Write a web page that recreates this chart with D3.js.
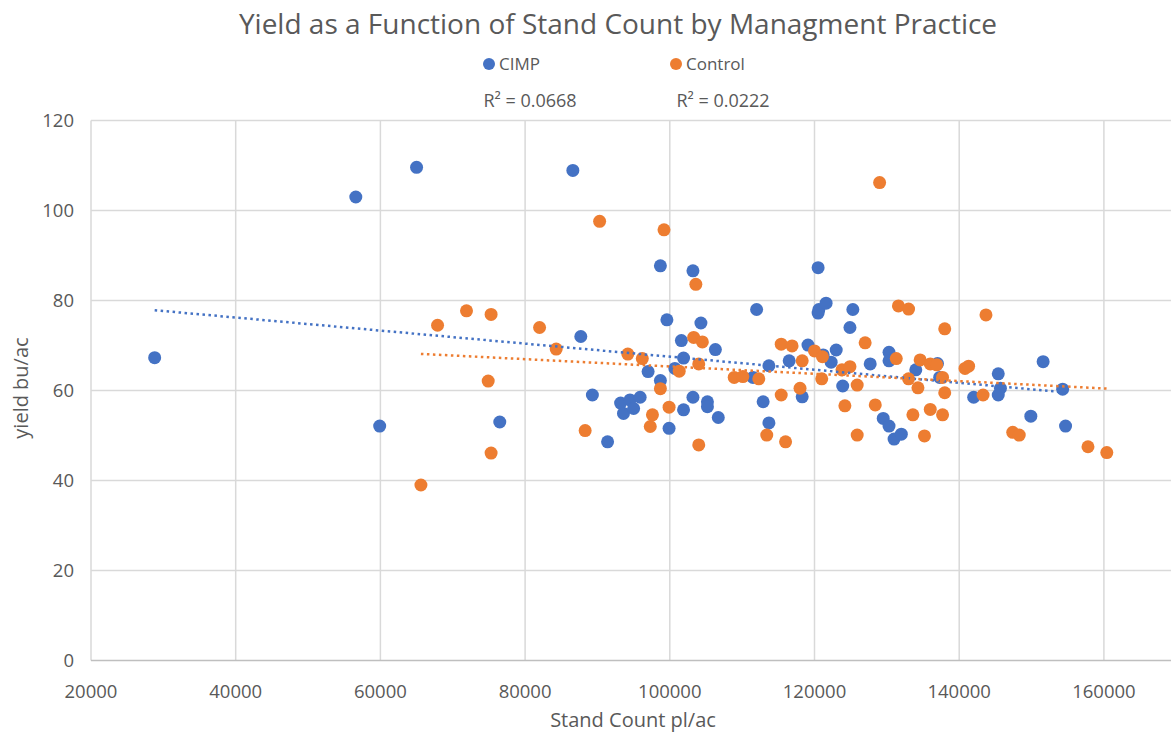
<!DOCTYPE html>
<html>
<head>
<meta charset="utf-8">
<script src="https://cdn.jsdelivr.net/npm/d3@7"></script>
<style>
  body { margin: 0; background: #fff; }
  text { font-family: "Open Sans", "Noto Sans", sans-serif; fill: #595959; }
</style>
</head>
<body>
<script>
// stand count (pl/ac) and yield (bu/ac)
var cimpX = [28800, 56600, 65000, 59900, 76500, 86600, 87700, 89300, 91400, 93200,
  94500, 95900, 93600, 95000, 97000, 98700, 98700, 99600, 99900, 100700,
  101600, 101900, 101900, 103200, 103200, 104300, 105200, 105200, 106300, 106700,
  111500, 112000, 112900, 113700, 113700, 116500, 118300, 119100, 120500, 120500,
  120600, 121200, 121600, 122300, 123000, 123900, 124900, 125300, 127700, 129500,
  130300, 130300, 130300, 131000, 132000, 134000, 137000, 137300, 142000, 145400,
  145700, 145400, 149900, 151600, 154300, 154700];
var cimpY = [67.3, 103.0, 109.6, 52.1, 53.0, 108.9, 72.0, 59.0, 48.6, 57.2,
  57.9, 58.5, 54.9, 56.0, 64.2, 62.2, 87.7, 75.7, 51.6, 64.9,
  71.1, 67.2, 55.7, 86.6, 58.5, 75.0, 57.5, 56.4, 69.1, 54.0,
  62.9, 78.0, 57.5, 65.5, 52.8, 66.6, 58.6, 70.1, 87.3, 77.2,
  78.0, 67.9, 79.4, 66.3, 69.0, 61.0, 74.0, 78.0, 65.9, 53.8,
  68.5, 66.6, 52.1, 49.2, 50.3, 64.6, 66.0, 62.9, 58.5, 63.7,
  60.5, 59.0, 54.3, 66.4, 60.3, 52.1];

var controlX = [65600, 67900, 71900, 74900, 75300, 75300, 82000, 84300, 88300, 90300,
  94200, 96200, 97300, 97600, 98700, 99200, 99900, 101300, 103300, 103600,
  104000, 104000, 104500, 108900, 110100, 112300, 113400, 115400, 115400, 116000,
  116900, 118000, 118300, 120000, 121000, 121100, 123800, 124200, 124900, 125900,
  125900, 127000, 128400, 129000, 131300, 131600, 133000, 133000, 133600, 134300,
  134600, 135200, 136000, 136000, 136900, 137700, 137700, 138000, 138000, 140800,
  141300, 143300, 143700, 147400, 148300, 157800, 160400];
var controlY = [39.0, 74.5, 77.7, 62.1, 76.9, 46.1, 74.0, 69.2, 51.1, 97.6,
  68.1, 67.1, 52.0, 54.6, 60.4, 95.7, 56.3, 64.3, 71.8, 83.6,
  65.9, 47.9, 70.8, 62.9, 63.1, 62.6, 50.1, 70.3, 59.0, 48.6,
  69.9, 60.5, 66.6, 68.8, 62.6, 67.5, 64.6, 56.6, 65.3, 61.2,
  50.1, 70.6, 56.8, 106.2, 67.1, 78.8, 78.1, 62.6, 54.6, 60.6,
  66.8, 49.9, 65.9, 55.8, 65.7, 62.9, 54.6, 73.7, 59.5, 64.9,
  65.4, 59.0, 76.8, 50.7, 50.1, 47.5, 46.2];

var seriesNames = ["CIMP", "Control"];
var rSquared = ["R² = 0.0668", "R² = 0.0222"];
var xTicks = [20000, 40000, 60000, 80000, 100000, 120000, 140000, 160000, 180000];
var yTicks = [0, 20, 40, 60, 80, 100, 120];

var colors = ["#4472C4", "#ED7D31"];
var W = 1171, H = 736;

var svg = d3.select("body").append("svg")
    .attr("width", W)
    .attr("height", H);

var x = d3.scaleLinear().domain([20000, 180000]).range([91, 1248.6]);
var y = d3.scaleLinear().domain([0, 120]).range([660.5, 120.5]);

// grid
svg.append("g").selectAll("line.v")
  .data(xTicks).enter().append("line")
    .attr("x1", function(d) { return x(d); })
    .attr("x2", function(d) { return x(d); })
    .attr("y1", y(120)).attr("y2", y(0))
    .style("stroke", "#d9d9d9").style("stroke-width", 1.5);

svg.append("g").selectAll("line.h")
  .data(yTicks).enter().append("line")
    .attr("x1", x(20000)).attr("x2", x(180000))
    .attr("y1", function(d) { return y(d); })
    .attr("y2", function(d) { return y(d); })
    .style("stroke", function(d) { return d === 0 ? "#bfbfbf" : "#d9d9d9"; })
    .style("stroke-width", 1.5);

// tick labels
svg.append("g").selectAll("text")
  .data(yTicks).enter().append("text")
    .attr("x", 74).attr("y", function(d) { return y(d); })
    .attr("dy", "0.35em")
    .style("text-anchor", "end")
    .style("font-size", "18.5px")
    .text(function(d) { return d; });

svg.append("g").selectAll("text")
  .data(xTicks.slice(0, 8)).enter().append("text")
    .attr("x", function(d) { return x(d); }).attr("y", 692)
    .attr("dy", "0.35em")
    .style("text-anchor", "middle")
    .style("font-size", "18.5px")
    .text(function(d) { return d; });

// axis titles
svg.append("text")
  .attr("x", 633).attr("y", 720).attr("dy", "0.35em")
  .style("text-anchor", "middle").style("font-size", "20px")
  .text("Stand Count pl/ac");

svg.append("text")
  .attr("transform", "translate(21,388) rotate(-90)")
  .attr("dy", "0.35em")
  .style("text-anchor", "middle").style("font-size", "20px")
  .text("yield bu/ac");

// title
svg.append("text")
  .attr("x", 618).attr("y", 24).attr("dy", "0.35em")
  .style("text-anchor", "middle").style("font-size", "28px")
  .text("Yield as a Function of Stand Count by Managment Practice");

// points
var series = [
  { name: seriesNames[0], xs: cimpX, ys: cimpY, color: colors[0] },
  { name: seriesNames[1], xs: controlX, ys: controlY, color: colors[1] }
];

series.forEach(function(s) {
  svg.append("g").selectAll("circle")
    .data(d3.zip(s.xs, s.ys)).enter().append("circle")
      .attr("cx", function(d) { return x(d[0]); })
      .attr("cy", function(d) { return y(d[1]); })
      .attr("r", 6.5)
      .style("fill", s.color);
});

// linear trendlines (least squares over each series)
series.forEach(function(s) {
  var mx = d3.mean(s.xs), my = d3.mean(s.ys);
  var sxy = 0, sxx = 0;
  s.xs.forEach(function(v, i) {
    sxy += (v - mx) * (s.ys[i] - my);
    sxx += (v - mx) * (v - mx);
  });
  var b = sxy / sxx, a = my - b * mx;
  var x0 = d3.min(s.xs), x1 = d3.max(s.xs);
  svg.append("line")
    .attr("x1", x(x0)).attr("y1", y(a + b * x0))
    .attr("x2", x(x1)).attr("y2", y(a + b * x1))
    .style("stroke", s.color)
    .style("stroke-width", 2.5)
    .style("stroke-dasharray", "2.5,3.5");
});

// legend
var legendX = [489, 676];
series.forEach(function(s, i) {
  svg.append("circle")
    .attr("cx", legendX[i]).attr("cy", 64).attr("r", 6)
    .style("fill", s.color);
  svg.append("text")
    .attr("x", legendX[i] + 10).attr("y", 64).attr("dy", "0.35em")
    .style("font-size", "17px")
    .text(s.name);
});

// R squared labels
var rX = [530, 723];
rSquared.forEach(function(t, i) {
  svg.append("text")
    .attr("x", rX[i]).attr("y", 101).attr("dy", "0.35em")
    .style("text-anchor", "middle")
    .style("font-size", "18px")
    .text(t);
});
</script>
</body>
</html>
